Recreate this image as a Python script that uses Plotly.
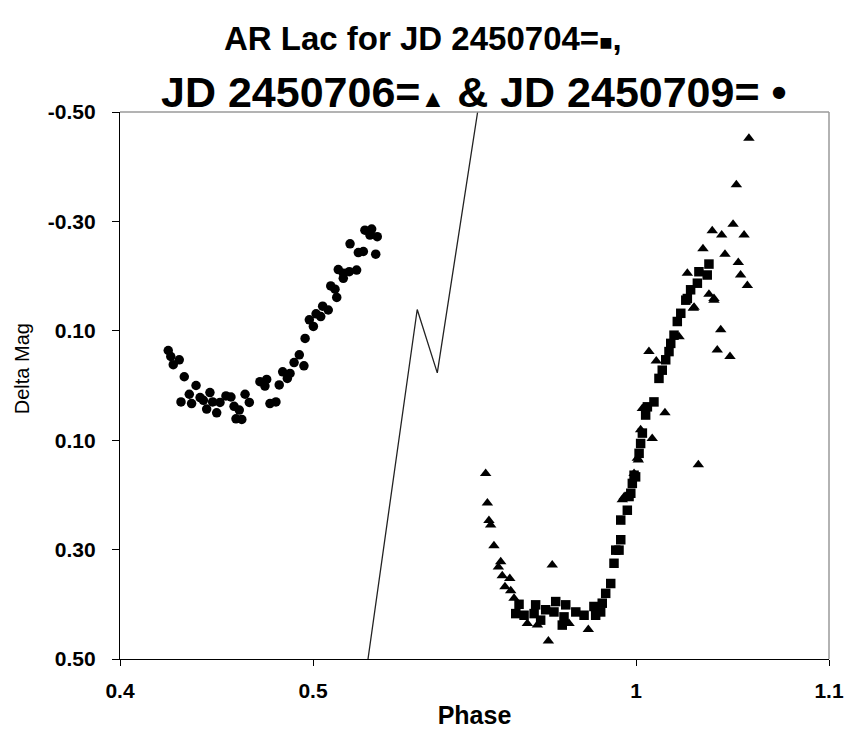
import plotly.graph_objects as go

# ---------------- data ----------------
# JD 2450709 (circles)
jd09_phase = [0.4250, 0.4263, 0.4307, 0.4276, 0.4333, 0.4394, 0.4359, 0.4316, 0.4371, 0.4415,
              0.4466, 0.4432, 0.4480, 0.4518, 0.4549, 0.4575, 0.4449, 0.4501, 0.4591, 0.4618,
              0.4648, 0.4670, 0.4601, 0.4631, 0.4725, 0.4760, 0.4751, 0.4777, 0.4808, 0.4825,
              0.4843, 0.4867, 0.4881, 0.4902, 0.4929, 0.4953, 0.4959, 0.4981, 0.5002, 0.5016,
              0.5040, 0.5050, 0.5079, 0.5092, 0.5114, 0.5123, 0.5131, 0.5157, 0.5188, 0.5226,
              0.5157, 0.5192, 0.5235, 0.5261, 0.5325, 0.5269, 0.5304, 0.5295, 0.5333]
jd09_mag = [-0.064, -0.053, -0.047, -0.038, -0.016, 0.000, 0.016, 0.030, 0.033, 0.022,
            0.013, 0.027, 0.030, 0.031, 0.019, 0.021, 0.043, 0.050, 0.038, 0.045,
            0.016, 0.031, 0.061, 0.062, -0.007, -0.011, 0.001, 0.033, 0.030, -0.001,
            -0.025, -0.013, -0.022, -0.042, -0.056, -0.036, -0.086, -0.120, -0.108, -0.131,
            -0.126, -0.145, -0.138, -0.182, -0.176, -0.161, -0.212, -0.205, -0.208, -0.211,
            -0.196, -0.259, -0.243, -0.245, -0.240, -0.284, -0.286, -0.275, -0.272]

# JD 2450704 (squares)
jd04_phase = [0.9394, 0.9377, 0.9420, 0.9480, 0.9472, 0.9532, 0.9506, 0.9584, 0.9575, 0.9636,
              0.9627, 0.9618, 0.9688, 0.9731, 0.9782, 0.9791, 0.9825, 0.9817, 0.9843, 0.9869,
              0.9886, 0.9895, 0.9921, 0.9912, 0.9921, 0.9955, 0.9973, 0.9981, 0.9990, 1.0016,
              0.9998, 0.9964, 1.0024, 1.0033, 1.0050, 1.0059, 1.0093, 1.0119, 1.0136, 1.0154,
              1.0171, 1.0180, 1.0197, 1.0214, 1.0232, 1.0258, 1.0266, 1.0283, 1.0318, 1.0326,
              1.0369, 1.0378]
jd04_mag = [0.400, 0.417, 0.420, 0.401, 0.417, 0.410, 0.429, 0.395, 0.414, 0.401,
            0.423, 0.438, 0.414, 0.420, 0.404, 0.420, 0.398, 0.414, 0.380, 0.362,
            0.325, 0.301, 0.282, 0.301, 0.246, 0.228, 0.197, 0.179, 0.164, 0.124,
            0.167, 0.203, 0.106, 0.087, 0.054, 0.039, 0.030, -0.013, -0.028, -0.047,
            -0.062, -0.077, -0.092, -0.117, -0.132, -0.156, -0.159, -0.175, -0.187, -0.208,
            -0.202, -0.222]

# JD 2450706 (triangles)
jd06_phase = [0.9221, 0.9230, 0.9238, 0.9247, 0.9264, 0.9299, 0.9287, 0.9307, 0.9346, 0.9321,
              0.9351, 0.9368, 0.9566, 0.9546, 0.9753, 0.9489, 0.9437, 0.9653, 0.9929, 1.0007,
              1.0301, 1.0404, 1.0439, 1.0421, 1.0487, 1.0067, 1.0105, 1.0223, 1.0150, 1.0033,
              1.0024, 1.0084, 1.0012, 1.0323, 0.9990, 0.9938, 1.0585, 1.0520, 1.0503, 1.0395,
              1.0444, 1.0560, 1.0347, 1.0461, 1.0530, 1.0266, 1.0542, 1.0577, 1.0378, 1.0404,
              1.0297]
jd06_mag = [0.161, 0.215, 0.247, 0.255, 0.293, 0.322, 0.332, 0.348, 0.353, 0.368,
            0.375, 0.389, 0.328, 0.467, 0.446, 0.438, 0.435, 0.435, 0.209, 0.133,
            -0.143, -0.156, -0.102, -0.065, -0.053, -0.062, -0.045, -0.089, 0.050, 0.042,
            0.081, 0.097, 0.136, 0.145, 0.161, 0.204, -0.452, -0.367, -0.295, -0.283,
            -0.275, -0.275, -0.250, -0.240, -0.225, -0.205, -0.202, -0.183, -0.167, -0.159,
            -0.141]

# axis-break marker (in axis coordinates)
break_x = [0.5285, 0.5540, 0.5644, 0.5853]
break_y = [0.50, -0.139, -0.023, -0.50]

x_tick_values = [0.4, 0.5, 1.0, 1.1]
x_tick_labels = ["0.4", "0.5", "1", "1.1"]
y_tick_values = [-0.5, -0.3, -0.1, 0.1, 0.3, 0.5]
y_tick_labels = ["-0.50", "-0.30", "0.10", "0.10", "0.30", "0.50"]

# broken x axis: phases beyond the break are shifted left
BREAK_AT = 0.75
BREAK_OFFSET = 0.33264


def to_axis(values):
    return [v - BREAK_OFFSET if v > BREAK_AT else v for v in values]


FONT = "Liberation Sans, Arial, sans-serif"

fig = go.Figure()
fig.add_trace(go.Scatter(x=break_x, y=break_y, mode="lines",
                         line=dict(color="#222222", width=1.3),
                         showlegend=False, hoverinfo="skip"))
fig.add_trace(go.Scatter(x=to_axis(jd06_phase), y=jd06_mag, mode="markers",
                         marker=dict(symbol="triangle-up", size=10, color="black"),
                         name="JD 2450706"))
fig.add_trace(go.Scatter(x=to_axis(jd04_phase), y=jd04_mag, mode="markers",
                         marker=dict(symbol="square", size=9.5, color="black"),
                         name="JD 2450704"))
fig.add_trace(go.Scatter(x=to_axis(jd09_phase), y=jd09_mag, mode="markers",
                         marker=dict(symbol="circle", size=9.5, color="black"),
                         name="JD 2450709"))

fig.update_layout(
    width=847, height=729,
    margin=dict(l=120, r=18, t=112, b=70),
    paper_bgcolor="white", plot_bgcolor="white",
    showlegend=False,
    font=dict(family=FONT, color="black"),
)

fig.update_xaxes(
    range=[0.4, 1.1 - BREAK_OFFSET],
    tickvals=to_axis(x_tick_values), ticktext=x_tick_labels,
    showgrid=False, zeroline=False, automargin=False,
    showline=True, linecolor="black", linewidth=1.3,
    ticks="outside", ticklen=6, tickcolor="black", tickwidth=1.3,
    tickfont=dict(size=21, family=FONT, weight="bold"),
    ticklabelstandoff=7,
    title=dict(text="Phase", font=dict(size=25, family=FONT, weight="bold"), standoff=11),
)
fig.update_yaxes(
    range=[0.5, -0.5],
    tickvals=y_tick_values, ticktext=y_tick_labels,
    showgrid=False, zeroline=False, automargin=False,
    showline=True, linecolor="black", linewidth=1.3,
    ticks="outside", ticklen=7, tickcolor="black", tickwidth=1.3,
    tickfont=dict(size=21, family=FONT, weight="bold"),
    ticklabelstandoff=12,
)

# y axis title
fig.add_annotation(text="Delta Mag", xref="paper", yref="paper", x=-0.138, y=0.53,
                   textangle=-90, showarrow=False, xanchor="center", yanchor="middle",
                   font=dict(size=20, family=FONT))

# gray top/right frame
fig.add_shape(type="line", xref="paper", yref="paper", x0=0, x1=1, y0=1, y1=1,
              line=dict(color="#9a9a9a", width=1.5))
fig.add_shape(type="line", xref="paper", yref="paper", x0=1, x1=1, y0=0, y1=1,
              line=dict(color="#9a9a9a", width=1.5))

title_line1 = 'AR Lac for JD 2450704=<span style="font-size:22px">■</span>,'
title_line2 = ('JD 2450706=<span style="font-size:25px">▲</span> &amp; JD 2450709= '
               '<span style="font-size:43px">•</span>')
fig.add_annotation(text=title_line1, xref="paper", yref="paper", x=0.427, y=1, yshift=74,
                   showarrow=False, xanchor="center", yanchor="middle",
                   font=dict(size=33, family=FONT, weight="bold"))
fig.add_annotation(text=title_line2, xref="paper", yref="paper", x=0.499, y=1, yshift=20,
                   showarrow=False, xanchor="center", yanchor="middle",
                   font=dict(size=43, family=FONT, weight="bold"))

# remove the default 8px page margin so the figure fills the window exactly
fig.write_html("out.html", config={"displayModeBar": False},
               post_script="document.body.style.margin='0px';")
